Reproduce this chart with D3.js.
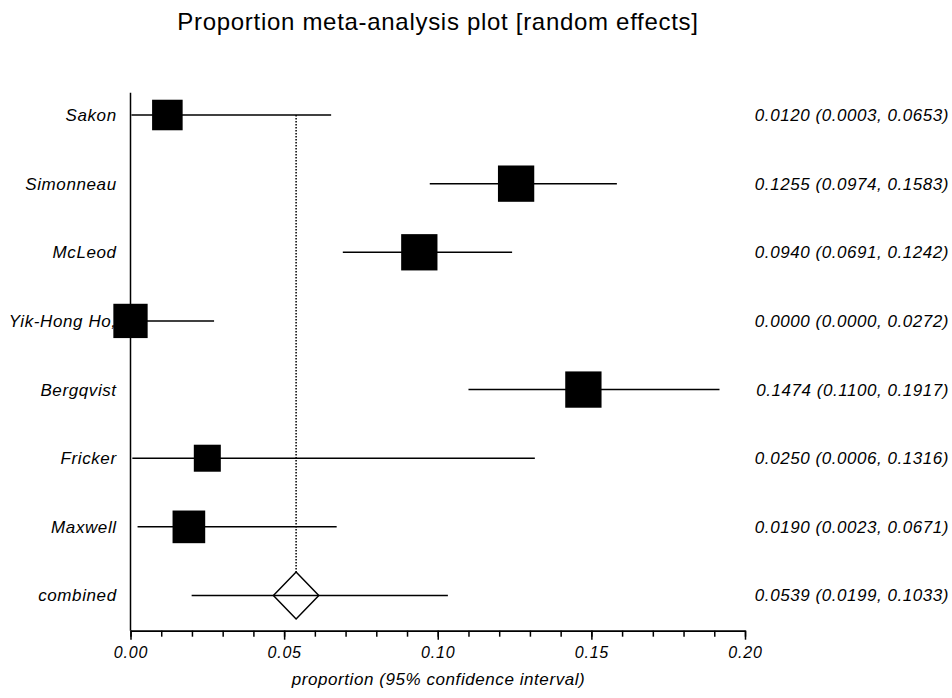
<!DOCTYPE html>
<html>
<head>
<meta charset="utf-8">
<script src="https://cdn.jsdelivr.net/npm/d3@7"></script>
<style>
  html, body { margin: 0; padding: 0; background: #fff; }
  svg { display: block; font-family: "Liberation Sans", Arial, sans-serif; }
</style>
</head>
<body>
<svg id="chart" width="952" height="698"></svg>
<script>
// ---- data ----
const studies = ["Sakon", "Simonneau", "McLeod", "Yik-Hong Ho,", "Bergqvist", "Fricker", "Maxwell"];
const proportion = [0.0120, 0.1255, 0.0940, 0.0000, 0.1474, 0.0250, 0.0190];
const lowerCI = [0.0003, 0.0974, 0.0691, 0.0000, 0.1100, 0.0006, 0.0023];
const upperCI = [0.0653, 0.1583, 0.1242, 0.0272, 0.1917, 0.1316, 0.0671];
const weights = [11.9, 16.8, 16.8, 15.0, 16.8, 9.3, 13.6];
const pooledLabel = "combined";
const pooled = 0.0539;
const pooledLower = 0.0199;
const pooledUpper = 0.1033;
const majorTicks = [0.00, 0.05, 0.10, 0.15, 0.20];
const minorTicks = d3.range(0, 21).map(i => i / 100);
const title = "Proportion meta-analysis plot [random effects]";
const xLabel = "proportion (95% confidence interval)";

// ---- layout ----
const svg = d3.select("#chart");
const x = d3.scaleLinear().domain([0, 0.2]).range([130.5, 745]);
const rows = studies.concat([pooledLabel]);
const y = d3.scalePoint().domain(rows).range([115, 595.5]);
const size = d3.scaleSqrt().domain([0, d3.max(weights)]).range([0, 36.3]);
const fmt = d3.format(".4f");
const axisY = 630.7;
const textStyle = sel => sel.attr("font-style", "italic").attr("fill", "#000");

// title
svg.append("text")
  .attr("x", 438).attr("y", 30)
  .attr("text-anchor", "middle")
  .attr("font-size", 24).attr("letter-spacing", 0.7)
  .attr("fill", "#000")
  .text(title);

// left labels
svg.append("g").selectAll("text").data(rows).join("text")
  .attr("x", 116.7).attr("y", d => y(d)).attr("dy", "0.35em")
  .attr("text-anchor", "end").attr("font-size", 17).attr("letter-spacing", 0.6)
  .call(textStyle)
  .text(d => d);

// right labels
const rightText = studies.map((s, i) => `${fmt(proportion[i])} (${fmt(lowerCI[i])}, ${fmt(upperCI[i])})`)
  .concat([`${fmt(pooled)} (${fmt(pooledLower)}, ${fmt(pooledUpper)})`]);
svg.append("g").selectAll("text").data(rows).join("text")
  .attr("x", 949).attr("y", d => y(d)).attr("dy", "0.35em")
  .attr("text-anchor", "end").attr("font-size", 17).attr("letter-spacing", 0.55)
  .call(textStyle)
  .text((d, i) => rightText[i]);

// vertical axis line
svg.append("line")
  .attr("x1", x(0)).attr("x2", x(0))
  .attr("y1", 92.7).attr("y2", axisY)
  .attr("stroke", "#000").attr("stroke-width", 1.5);

// dotted pooled line
svg.append("line")
  .attr("x1", x(pooled)).attr("x2", x(pooled))
  .attr("y1", y(studies[0])).attr("y2", y(pooledLabel) - 23.4)
  .attr("stroke", "#000").attr("stroke-width", 1.5)
  .attr("stroke-dasharray", "1.5,1.5");

// CI lines
svg.append("g").selectAll("line").data(studies).join("line")
  .attr("x1", (d, i) => x(lowerCI[i])).attr("x2", (d, i) => x(upperCI[i]))
  .attr("y1", d => y(d)).attr("y2", d => y(d))
  .attr("stroke", "#000").attr("stroke-width", 1.5);

// squares
svg.append("g").selectAll("rect").data(studies).join("rect")
  .attr("x", (d, i) => x(proportion[i]) - size(weights[i]) / 2)
  .attr("y", (d, i) => y(d) - size(weights[i]) / 2)
  .attr("width", (d, i) => size(weights[i]))
  .attr("height", (d, i) => size(weights[i]))
  .attr("fill", "#000");

// pooled diamond + CI
const py = y(pooledLabel), px = x(pooled);
svg.append("path")
  .attr("d", `M${px - 22.7},${py} L${px},${py - 23.4} L${px + 22.7},${py} L${px},${py + 23.4} Z`)
  .attr("fill", "#fff").attr("stroke", "#000").attr("stroke-width", 1.5);
svg.append("line")
  .attr("x1", x(pooledLower)).attr("x2", x(pooledUpper))
  .attr("y1", py).attr("y2", py)
  .attr("stroke", "#000").attr("stroke-width", 1.5);

// x axis: minor ticks
const minorAxis = d3.axisBottom(x).tickValues(minorTicks).tickSize(6).tickSizeOuter(0).tickFormat("");
const gMinor = svg.append("g").attr("transform", `translate(0,${axisY})`).call(minorAxis);
// major ticks with labels
const majorAxis = d3.axisBottom(x).tickValues(majorTicks).tickSize(9).tickSizeOuter(0)
  .tickPadding(7).tickFormat(d3.format(".2f"));
const gMajor = svg.append("g").attr("transform", `translate(0,${axisY})`).call(majorAxis);
[gMinor, gMajor].forEach(g => {
  g.selectAll("path").attr("stroke", "#000").attr("stroke-width", 1.5);
  g.selectAll("line").attr("stroke", "#000").attr("stroke-width", 1.5);
});
gMajor.selectAll("text")
  .attr("font-size", 16).attr("letter-spacing", 0.8)
  .attr("font-family", "Liberation Sans, Arial, sans-serif")
  .attr("font-style", "italic").attr("fill", "#000");

// x label
svg.append("text")
  .attr("x", 438.5).attr("y", 685)
  .attr("text-anchor", "middle")
  .attr("font-size", 17).attr("letter-spacing", 0.57)
  .call(textStyle)
  .text(xLabel);
</script>
</body>
</html>
